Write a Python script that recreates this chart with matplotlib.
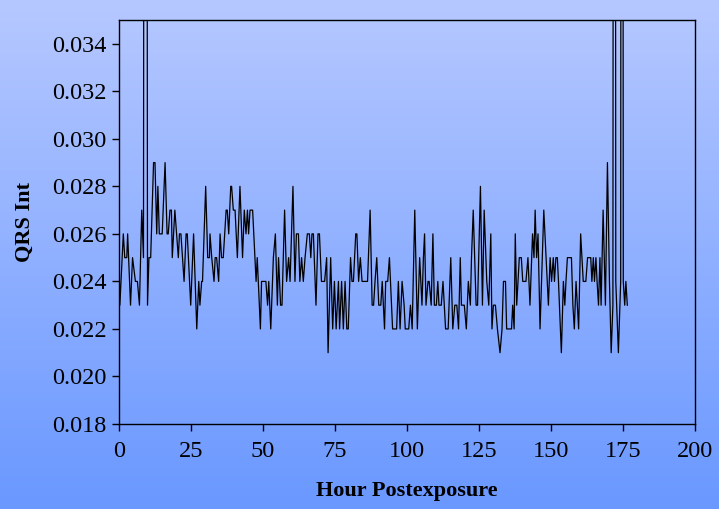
import numpy as np
import matplotlib
matplotlib.use("Agg")
import matplotlib.pyplot as plt
from matplotlib.ticker import MultipleLocator, FormatStrFormatter

# hour postexposure (vertices)
hours = [0, 0.3, 1.5, 2.0, 2.7, 3.0, 4.0, 4.7, 5.7, 6.4, 7.1, 7.9, 8.5, 9.2, 9.9,
         10.4, 11.0, 12.0, 12.5, 13.1, 13.5, 14.0, 15.0, 16.0, 16.7, 17.1, 17.7,
         18.2, 18.5, 19.4, 20.6, 21.0, 21.5, 22.6, 23.3, 23.7, 24.9, 25.9, 27.0,
         27.7, 28.1, 28.7, 29.0, 30.1, 30.8, 31.4, 31.6, 32.2, 33.0, 33.4, 33.9,
         34.6, 35.1, 35.6, 36.2, 37.2, 37.6, 38.1, 38.8, 39.1, 39.7, 40.3, 41.1,
         42.0, 42.9, 43.5, 44.1, 44.6, 45.0, 45.5, 46.4, 47.2, 47.6, 48.0, 49.1,
         49.5, 51.0, 51.6, 52.0, 52.7, 53.6, 54.3, 55.0, 55.4, 56.1, 56.6, 57.5,
         58.2, 58.9, 59.4, 60.4, 61.1, 61.6, 62.3, 62.8, 63.4, 64.0, 64.6, 65.4,
         66.1, 66.6, 67.0, 67.5, 68.4, 69.1, 69.6, 70.3, 71.4, 72.1, 72.6, 73.5,
         74.2, 74.8, 75.4, 76.2, 76.6, 77.3, 77.9, 78.5, 79.1, 79.6, 80.4, 80.9,
         81.4, 82.2, 82.6, 83.2, 83.8, 84.4, 86.3, 87.2, 87.9, 88.4, 88.9, 89.5,
         90.2, 90.9, 91.4, 92.2, 92.6, 93.3, 93.9, 95.0, 96.4, 97.0, 97.6, 98.3,
         99.0, 99.4, 100.6, 101.2, 101.8, 102.7, 103.6, 104.4, 105.2, 105.7, 106.1,
         106.6, 107.3, 107.7, 108.4, 109.0, 109.5, 110.2, 110.7, 111.1, 111.9,
         112.5, 113.4, 114.3, 115.2, 115.9, 116.6, 117.3, 117.9, 118.5, 118.9,
         119.9, 120.6, 121.3, 122.0, 122.4, 123.0, 124.0, 124.5, 125.5, 126.2,
         126.8, 127.7, 128.4, 129.1, 129.5, 130.0, 130.7, 131.4, 132.3, 133.0,
         133.5, 134.2, 134.6, 136.3, 136.7, 137.2, 137.6, 138.1, 139.0, 139.7,
         140.2, 141.3, 142.0, 142.7, 143.6, 144.1, 144.5, 145.0, 145.5, 146.2,
         147.5, 149.1, 149.7, 150.2, 150.8, 151.2, 151.7, 152.2, 152.6, 153.6,
         154.3, 154.8, 155.2, 155.7, 157.1, 157.6, 158.1, 158.7, 159.6, 160.3,
         161.2, 162.1, 162.7, 163.8, 164.2, 164.7, 165.1, 165.6, 166.0, 166.5,
         167.0, 167.4, 168.1, 168.9, 169.6, 170.3, 170.9, 171.5, 172.0, 172.5,
         173.4, 174.2, 174.65, 175.1, 175.6, 176.0, 176.5]

# QRS interval in thousandths (120 = off-scale spikes)
qrs_k = [25, 23, 26, 25, 25, 26, 23, 25, 24, 24, 23, 27, 25, 120, 23,
         25, 25, 29, 29, 26, 28, 26, 26, 29, 26, 26, 27,
         27, 25, 27, 25, 26, 26, 24, 26, 26, 23, 26, 22,
         24, 23, 24, 24, 28, 25, 25, 26, 25, 24, 25, 25,
         24, 26, 25, 25, 27, 27, 26, 28, 28, 27, 27, 25,
         28, 25, 27, 26, 27, 26, 27, 27, 25, 24, 25, 22,
         24, 24, 23, 24, 22, 25, 26, 23, 25, 23, 23, 27,
         24, 25, 24, 28, 24, 26, 26, 24, 25, 24, 25, 26,
         26, 25, 26, 26, 23, 26, 26, 24, 24, 25, 21, 25,
         22, 24, 22, 24, 22, 24, 22, 24, 22, 22, 25, 24,
         24, 26, 26, 24, 25, 24, 24, 27, 23, 23, 24, 25,
         23, 23, 24, 22, 24, 24, 25, 22, 22, 24, 22, 24,
         23, 22, 22, 23, 22, 27, 22, 25, 23, 25, 26,
         23, 24, 24, 23, 26, 23, 23, 24, 23, 23,
         24, 22, 22, 25, 22, 23, 23, 22, 25, 23,
         23, 22, 24, 23, 25, 27, 23, 23, 28, 23,
         27, 24, 23, 26, 22, 23, 23, 22, 21, 22,
         24, 24, 22, 22, 23, 22, 26, 23, 25, 25,
         24, 24, 25, 23, 26, 25, 27, 25, 26, 22,
         27, 23, 25, 24, 25, 24, 25, 25, 24, 21,
         24, 23, 24, 25, 25, 23, 22, 24, 22, 26,
         24, 24, 25, 25, 24, 25, 24, 25, 24, 23,
         25, 23, 27, 23, 29, 24, 21, 23, 120, 24,
         21, 24, 120, 24, 23, 24, 23]

qrs = np.array(qrs_k) / 1000.0

x_ticks = [0, 25, 50, 75, 100, 125, 150, 175, 200]

plt.rcParams['font.family'] = ['Liberation Serif', 'DejaVu Serif']

fig = plt.figure(figsize=(7.19, 5.09), dpi=100)

# fondo degradado azul
bg = fig.add_axes([0, 0, 1, 1])
top = np.array([182, 200, 255]) / 255.0
bot = np.array([106, 152, 255]) / 255.0
t = np.linspace(0, 1, 256)[:, None]
grad = (top * (1 - t) + bot * t)[:, None, :]
bg.imshow(grad, aspect='auto', extent=[0, 1, 0, 1])
bg.axis('off')

ax = fig.add_axes([0.1655, 0.167, 0.8011, 0.7937])
ax.patch.set_alpha(0)
ax.plot(hours, qrs, color='black', lw=0.9)

ax.set_xlim(0, 200)
ax.set_ylim(0.018, 0.035)
ax.set_xticks(x_ticks)
ax.yaxis.set_major_locator(MultipleLocator(0.002))
ax.yaxis.set_major_formatter(FormatStrFormatter('%.3f'))
ax.tick_params(axis='both', direction='out', length=5, width=1, labelsize=17.5,
               colors='black')
ax.tick_params(axis='y', pad=4)
ax.tick_params(axis='x', pad=7)
for s in ax.spines.values():
    s.set_linewidth(1)
    s.set_color('black')

ax.set_xlabel('Hour Postexposure', fontsize=16, fontweight='bold', labelpad=14)
ax.set_ylabel('QRS Int', fontsize=16, fontweight='bold', labelpad=12)

fig.savefig('out.png', dpi=100)
